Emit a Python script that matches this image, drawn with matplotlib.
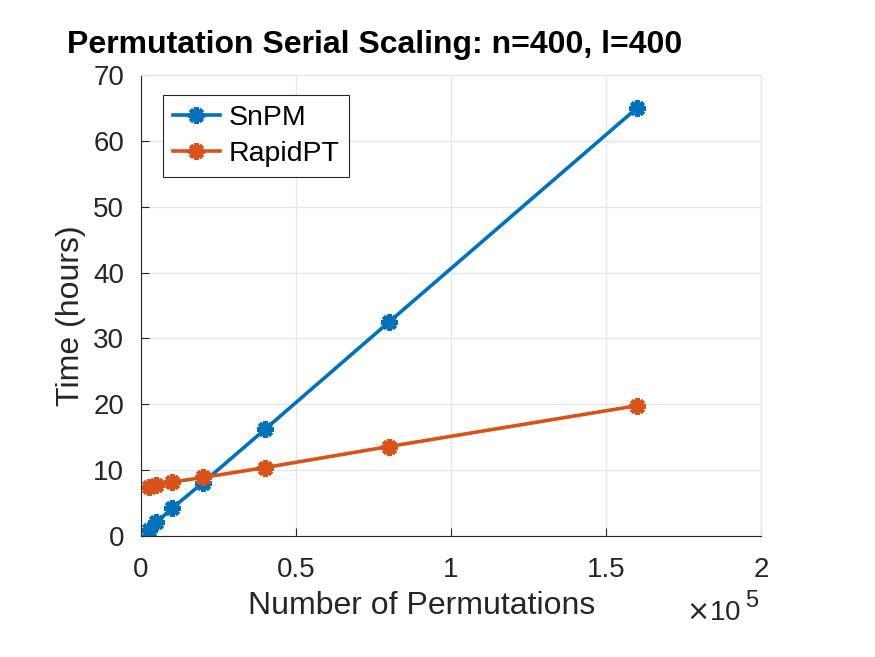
import matplotlib
matplotlib.use("Agg")
import matplotlib.pyplot as plt

plt.rcParams['font.family'] = ['Liberation Sans', 'DejaVu Sans']

perms = [2500, 5000, 10000, 20000, 40000, 80000, 160000]
snpm = [0.9, 2.1, 4.2, 8.1, 16.2, 32.5, 65.0]
rapidpt = [7.5, 7.7, 8.2, 8.9, 10.4, 13.6, 19.8]

blue = '#0072BD'
orange = '#D95319'
dark = '#262626'

fig = plt.figure(figsize=(8.75, 6.57), dpi=100)
ax = fig.add_axes([0.161, 0.184, 0.709, 0.702])

x = [p / 1e5 for p in perms]
star = (8, 2, 0)
ax.plot(x, snpm, color=blue, lw=2.6, marker=star, ms=12, mew=3, label='SnPM')
ax.plot(x, rapidpt, color=orange, lw=2.6, marker=star, ms=12, mew=3, label='RapidPT')

ax.set_xlim(0, 2)
ax.set_ylim(0, 70)
ax.set_xticks([0, 0.5, 1, 1.5, 2])
ax.set_xticklabels(['0', '0.5', '1', '1.5', '2'])
ax.set_yticks(range(0, 71, 10))
ax.grid(True, color='#e6e6e6', lw=0.9)
ax.set_axisbelow(True)
for s in ['top', 'right']:
    ax.spines[s].set_color('#e6e6e6')
for s in ['left', 'bottom']:
    ax.spines[s].set_color(dark)
ax.tick_params(direction='in', length=6, labelsize=20, colors=dark,
               top=False, right=False)
ax.tick_params(axis='x', pad=15)
ax.tick_params(axis='y', pad=12)

ax.set_xlabel('Number of Permutations', fontsize=23, color=dark)
ax.set_ylabel('Time (hours)', fontsize=23, color=dark)
ax.xaxis.set_label_coords((422 - 141) / 620, -0.118)
ax.yaxis.set_label_coords(-0.088, 0.477)

fig.text(686 / 875, 1 - 620 / 657, r'$\times$10', fontsize=20, color=dark, va='baseline')
fig.text(745 / 875, 1 - 607 / 657, '5', fontsize=17, color=dark, va='baseline')

fig.text(67 / 875, 1 - 53 / 657, 'Permutation Serial Scaling: n=400, l=400',
         fontsize=23, fontweight='bold', va='baseline')

leg = ax.legend(loc='upper left', bbox_to_anchor=(0.0355, 0.957), borderaxespad=0,
                fontsize=20.5, fancybox=False, edgecolor=dark, framealpha=1,
                handlelength=1.65, handletextpad=0.3, borderpad=0.35,
                labelspacing=0.35)
leg.get_frame().set_linewidth(0.8)

fig.savefig('out.png', dpi=100)
